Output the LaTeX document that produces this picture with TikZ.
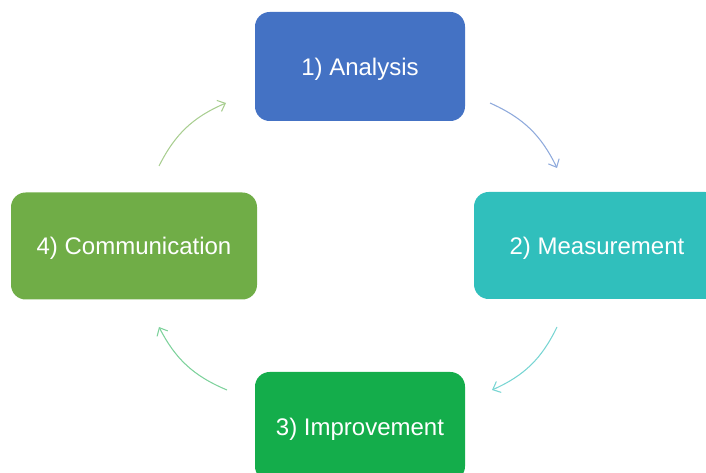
\documentclass[tikz,border=0pt]{standalone}
\usepackage{fontspec}
\setmainfont{Liberation Sans}
\usetikzlibrary{arrows.meta}

\definecolor{anablue}{HTML}{4472C4}
\definecolor{meateal}{HTML}{30BFBC}
\definecolor{impgreen}{HTML}{14AD4B}
\definecolor{comgreen}{HTML}{70AD47}

\begin{document}
\begin{tikzpicture}[x=0.75pt,y=-0.75pt,
    stage/.style={rectangle, rounded corners=11pt, fill=#1, text=white,
      font=\fontsize{18}{22}\selectfont, inner sep=0pt, text depth=0pt},
    cycle/.style={draw=#1, line width=0.8pt,
      -{Straight Barb[length=5pt,width=9pt]}, bend left=20}]
  \useasboundingbox (0,0) rectangle (706,473);

  % Define nodes
  \node[stage=anablue, minimum width=157.5pt, minimum height=81.75pt]
    (ana) at (360,66.5) {1) Analysis};
  \node[stage=meateal, minimum width=184.5pt, minimum height=80.25pt]
    (mea) at (597,245.5) {2) Measurement};
  \node[stage=impgreen, minimum width=157.5pt, minimum height=81.75pt]
    (imp) at (360,426.5) {3) Improvement};
  \node[stage=comgreen, minimum width=184.5pt, minimum height=80.25pt]
    (com) at (134,246) {4) Communication};

  % Arrow ends
  \coordinate (anaout) at (490,103);
  \coordinate (meain)  at (557,168);
  \coordinate (meaout) at (557,327);
  \coordinate (impin)  at (492,390);
  \coordinate (impout) at (227,390);
  \coordinate (comin)  at (159,327);
  \coordinate (comout) at (159,166);
  \coordinate (anain)  at (226,103);

  % Connect the stages
  \draw[cycle=anablue!60] (anaout) to (meain);
  \draw[cycle=meateal!65] (meaout) to (impin);
  \draw[cycle=impgreen!55] (impout) to (comin);
  \draw[cycle=comgreen!60] (comout) to (anain);
\end{tikzpicture}
\end{document}
